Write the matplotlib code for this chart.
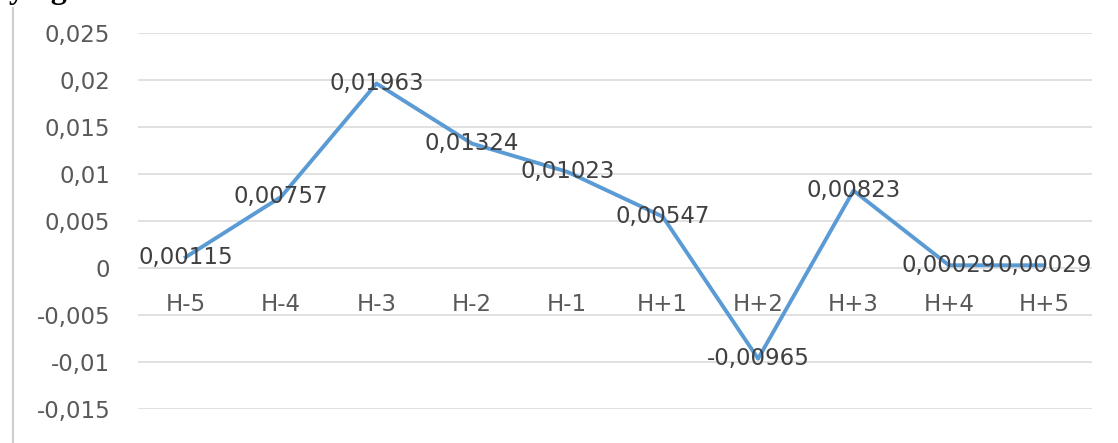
import matplotlib
matplotlib.use("Agg")
import matplotlib.pyplot as plt
from matplotlib.lines import Line2D

# Event-window average abnormal returns
periods = ["H-5", "H-4", "H-3", "H-2", "H-1", "H+1", "H+2", "H+3", "H+4", "H+5"]
values = [0.00115, 0.00757, 0.01963, 0.01324, 0.01023, 0.00547, -0.00965, 0.00823, 0.00029, 0.00029]
y_ticks = [-0.015, -0.01, -0.005, 0, 0.005, 0.01, 0.015, 0.02, 0.025]
y_tick_labels = ["-0,015", "-0,01", "-0,005", "0", "0,005", "0,01", "0,015", "0,02", "0,025"]
value_labels = ["0,00115", "0,00757", "0,01963", "0,01324", "0,01023",
                "0,00547", "-0,00965", "0,00823", "0,00029", "0,00029"]

W, H = 1118, 443
fig = plt.figure(figsize=(W / 100, H / 100), dpi=100)
fig.patch.set_facecolor("white")

ax = fig.add_axes([138 / W, (H - 409) / H, 954 / W, 376 / H])
ax.set_xlim(-0.5, len(periods) - 0.5)
ax.set_ylim(-0.015, 0.025)

grid_color = "#D9D9D9"
tick_color = "#595959"
fs = 16.5

for v in y_ticks:
    ax.axhline(v, color=grid_color, lw=1.1, zorder=0)

x = list(range(len(periods)))
ax.plot(x, values, color="#5B9BD5", lw=2.8, solid_joinstyle="round", zorder=2)

for xi, v, lab in zip(x, values, value_labels):
    ax.text(xi, v, lab, ha="center", va="center", fontsize=fs,
            color="#404040", zorder=3)

for s in ax.spines.values():
    s.set_visible(False)

ax.set_yticks(y_ticks)
ax.set_yticklabels(y_tick_labels)
ax.tick_params(axis="y", length=0, pad=20, labelsize=fs, labelcolor=tick_color)
ax.set_xticks([])

# Category labels sit just beneath the zero line
for xi, p in zip(x, periods):
    ax.annotate(p, xy=(xi, 0), xytext=(0, -25), textcoords="offset pixels",
                ha="center", va="top", fontsize=fs, color=tick_color)

# Chart border on the left and the clipped caption above it
fig.add_artist(Line2D([13 / W, 13 / W], [0, 1 - 8 / H], transform=fig.transFigure,
                      color="#CFCFCF", lw=1.6))
fig.text(9 / W, 1 + 2 / H, "ying", fontsize=23, fontweight="bold",
         family="Liberation Serif", ha="left", va="baseline", color="black")

fig.savefig("out.png", dpi=100, facecolor="white")
